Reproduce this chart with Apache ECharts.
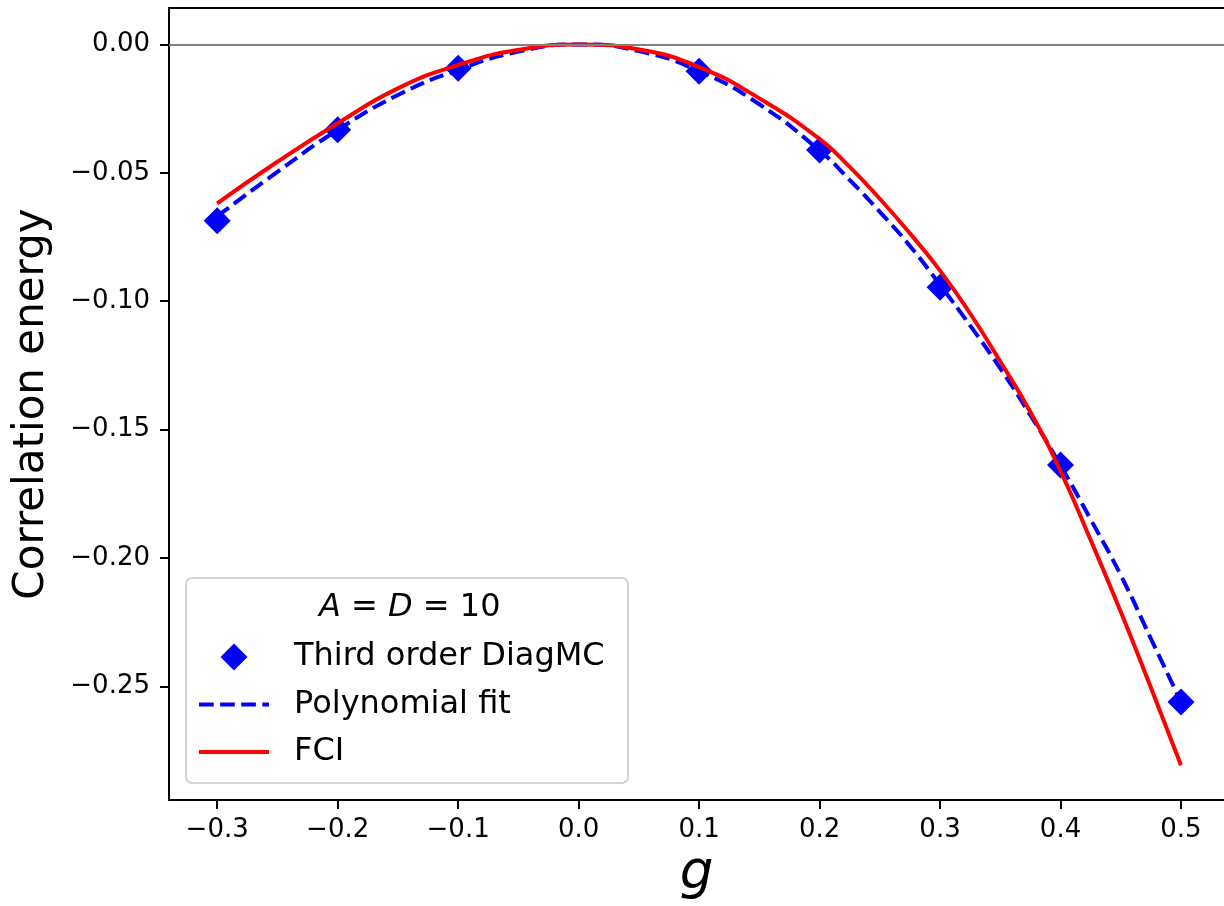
<!DOCTYPE html>
<html>
<head>
<meta charset="utf-8">
<script src="https://cdn.jsdelivr.net/npm/echarts@6/dist/echarts.min.js"></script>
<style>
html,body{margin:0;padding:0;background:#fff;}
#chart{width:1224px;height:906px;}
</style>
</head>
<body>
<div id="chart"></div>
<script>
// ---- data ----
const gPoints = [-0.3, -0.2, -0.1, 0.1, 0.2, 0.3, 0.4, 0.5];
const dmcValues = [-0.0687, -0.0332, -0.0093, -0.0104, -0.0411, -0.0946, -0.1638, -0.2561];

const gCurve = [-0.3, -0.25, -0.2, -0.15, -0.1, -0.05, 0.0, 0.05, 0.1, 0.15, 0.2, 0.225, 0.25, 0.275, 0.3, 0.325, 0.35, 0.375, 0.4, 0.425, 0.45, 0.475, 0.5];
const polyValues = [-0.0670, -0.0496, -0.0333, -0.0197, -0.0099, -0.0028, 0.0, -0.0026, -0.0104, -0.0233, -0.0413, -0.0528, -0.0652, -0.0785, -0.0937, -0.1095, -0.1262, -0.1444, -0.1640, -0.1850, -0.2067, -0.2314, -0.2561];
const fciValues = [-0.0619, -0.0457, -0.0307, -0.0171, -0.0080, -0.0021, 0.0, -0.0020, -0.0088, -0.0210, -0.0368, -0.0477, -0.0601, -0.0736, -0.0881, -0.1048, -0.1235, -0.1432, -0.1662, -0.1930, -0.2210, -0.2505, -0.2808];

const xTickValues = [-0.3, -0.2, -0.1, 0.0, 0.1, 0.2, 0.3, 0.4, 0.5];
const xTickLabels = ['\u22120.3', '\u22120.2', '\u22120.1', '0.0', '0.1', '0.2', '0.3', '0.4', '0.5'];
const yTickValues = [0.0, -0.05, -0.10, -0.15, -0.20, -0.25];
const yTickLabels = ['0.00', '\u22120.05', '\u22120.10', '\u22120.15', '\u22120.20', '\u22120.25'];

const seriesNames = ['Third order DiagMC', 'Polynomial fit', 'FCI'];

function lookup(vals, labels, v) {
  for (let i = 0; i < vals.length; i++) if (Math.abs(vals[i] - v) < 1e-9) return labels[i];
  return '';
}
const zip = (a, b) => a.map((x, i) => [x, b[i]]);

const FONT = 'DejaVu Sans';
const X_MIN = -0.34, X_MAX = 0.5357;
const chart = echarts.init(document.getElementById('chart'), null, {renderer: 'canvas'});

chart.setOption({
  animation: false,
  backgroundColor: '#ffffff',
  textStyle: {fontFamily: FONT, color: '#000'},
  grid: {left: 169, right: 0, top: 8, bottom: 106, show: false},
  xAxis: [{
    type: 'value', min: X_MIN, max: X_MAX,
    name: 'g', nameLocation: 'middle', nameGap: 46,
    nameTextStyle: {fontFamily: FONT, fontSize: 53, fontStyle: 'italic', color: '#000'},
    axisLine: {show: true, onZero: false, lineStyle: {color: '#000', width: 2}},
    axisTick: {show: true, length: 9, lineStyle: {color: '#000', width: 2}, customValues: xTickValues},
    axisLabel: {
      customValues: xTickValues, margin: 17, fontSize: 26, fontFamily: FONT, color: '#000',
      formatter: v => lookup(xTickValues, xTickLabels, v)
    },
    splitLine: {show: false}
  }, {
    type: 'value', position: 'top', min: X_MIN, max: X_MAX,
    axisLine: {show: true, onZero: false, lineStyle: {color: '#000', width: 2}},
    axisTick: {show: false}, axisLabel: {show: false}, splitLine: {show: false}
  }],
  yAxis: {
    type: 'value', min: -0.2943, max: 0.0142,
    name: 'Correlation energy', nameLocation: 'middle', nameGap: 116,
    nameTextStyle: {fontFamily: FONT, fontSize: 42, color: '#000'},
    axisLine: {show: true, onZero: false, lineStyle: {color: '#000', width: 2}},
    axisTick: {show: true, length: 9, lineStyle: {color: '#000', width: 2}, customValues: yTickValues},
    axisLabel: {
      customValues: yTickValues, margin: 19, fontSize: 26, fontFamily: FONT, color: '#000',
      formatter: v => lookup(yTickValues, yTickLabels, v)
    },
    splitLine: {show: false}
  },
  legend: {
    orient: 'vertical', left: 197, top: 641, padding: 0,
    itemWidth: 70, itemHeight: 27, itemGap: 15.5,
    symbolKeepAspect: true,
    data: [
      {name: seriesNames[0], icon: 'path://M1,0L2,1L1,2L0,1Z'},
      {name: seriesNames[1], itemStyle: {opacity: 0}, lineStyle: {width: 4, type: [14.7, 6.4], color: '#0000ff'}},
      {name: seriesNames[2], itemStyle: {opacity: 0}, lineStyle: {width: 4, color: '#ff0000'}}
    ],
    textStyle: {fontFamily: FONT, fontSize: 32, color: '#000', padding: [0, 0, 0, 20]},
    z: 20
  },
  graphic: [
    {
      type: 'rect', z: 15, silent: true,
      shape: {x: 186, y: 578, width: 442, height: 205, r: 6},
      style: {fill: 'rgba(255,255,255,0.85)', stroke: '#d3d3d3', lineWidth: 2}
    },
    {
      type: 'text', z: 20, silent: true,
      left: 319, top: 592,
      style: {
        text: '{i|A} = {i|D} = 10',
        rich: {i: {fontStyle: 'italic', fontFamily: FONT, fontSize: 32, fill: '#000'}},
        fontFamily: FONT, fontSize: 32, fill: '#000'
      }
    }
  ],
  series: [
    {
      name: 'zero', type: 'line', data: [], z: 1, silent: true,
      markLine: {
        silent: true, symbol: 'none', animation: false,
        label: {show: false},
        lineStyle: {color: '#808080', width: 2, type: 'solid'},
        data: [{yAxis: 0}]
      }
    },
    {
      name: seriesNames[0], type: 'scatter', z: 2,
      symbol: 'diamond', symbolSize: 27,
      itemStyle: {color: '#0000ff', opacity: 1},
      data: zip(gPoints, dmcValues)
    },
    {
      name: seriesNames[1], type: 'line', z: 3, smooth: 0.5,
      symbol: 'none', showSymbol: false,
      lineStyle: {color: '#0000ff', width: 4, type: [14.7, 6.4]},
      itemStyle: {color: '#0000ff'},
      data: zip(gCurve, polyValues)
    },
    {
      name: seriesNames[2], type: 'line', z: 4, smooth: 0.5,
      symbol: 'none', showSymbol: false,
      lineStyle: {color: '#ff0000', width: 4},
      itemStyle: {color: '#ff0000'},
      data: zip(gCurve, fciValues)
    }
  ]
});
</script>
</body>
</html>
